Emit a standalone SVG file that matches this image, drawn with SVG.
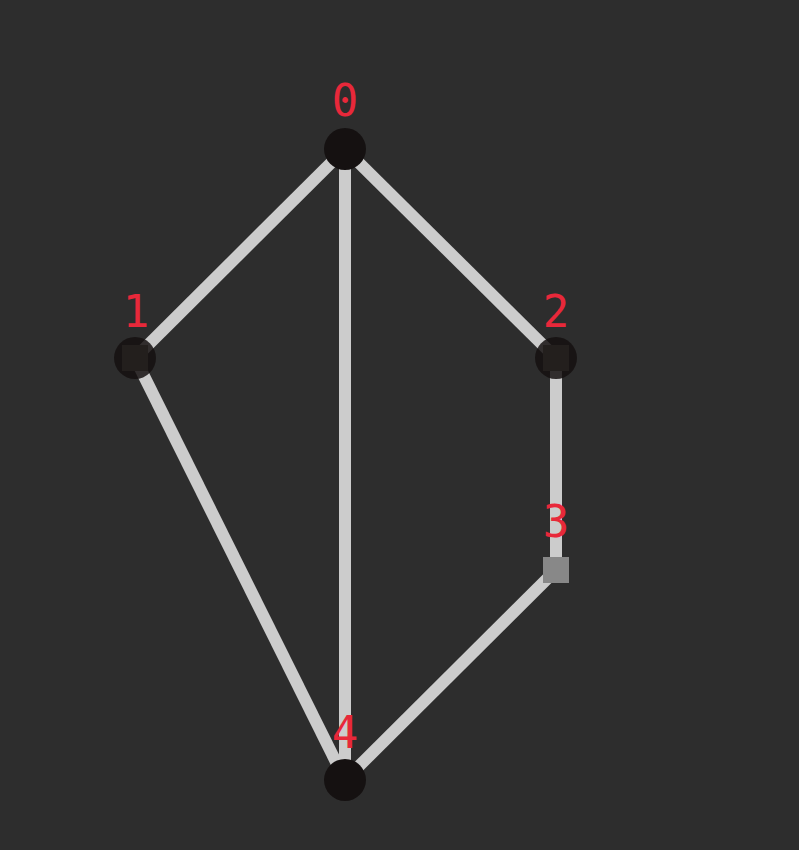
<svg xmlns="http://www.w3.org/2000/svg" width="799" height="850" viewBox="0 0 799 850">
<style>
.edge{stroke:#cccccc;stroke-width:12;fill:none}
.node{fill:#151111}
.semi{fill:#151111;fill-opacity:0.85}
.inner{fill:#231f1d}
.lbl{fill:#e8283a;font-family:"DejaVu Sans Mono","Liberation Mono",monospace;font-size:44px;text-anchor:middle}
</style>
<rect width="799" height="850" fill="#2d2d2d"/>
<g id="edges">
<line class="edge" x1="345" y1="149" x2="135" y2="358"/>
<line class="edge" x1="345" y1="149" x2="556" y2="358"/>
<line class="edge" x1="345" y1="149" x2="345" y2="780"/>
<line class="edge" x1="135" y1="358" x2="345" y2="780"/>
<line class="edge" x1="556" y1="358" x2="556" y2="570"/>
<line class="edge" x1="556" y1="570" x2="345" y2="780"/>
</g>
<g id="node0"><circle class="node" cx="345" cy="149" r="21"/><text class="lbl" x="345" y="116">0</text></g>
<g id="node1"><circle class="semi" cx="135" cy="358" r="21"/><rect class="inner" x="122" y="345" width="26" height="26"/><text class="lbl" x="136" y="327">1</text></g>
<g id="node2"><circle class="semi" cx="556" cy="358" r="21"/><rect class="inner" x="543" y="345" width="26" height="26"/><text class="lbl" x="556" y="327">2</text></g>
<g id="node3"><rect fill="#888888" x="543" y="557" width="26" height="26"/><text class="lbl" x="556" y="537">3</text></g>
<g id="node4"><circle class="node" cx="345" cy="780" r="21"/><text class="lbl" x="345" y="748">4</text></g>
</svg>
